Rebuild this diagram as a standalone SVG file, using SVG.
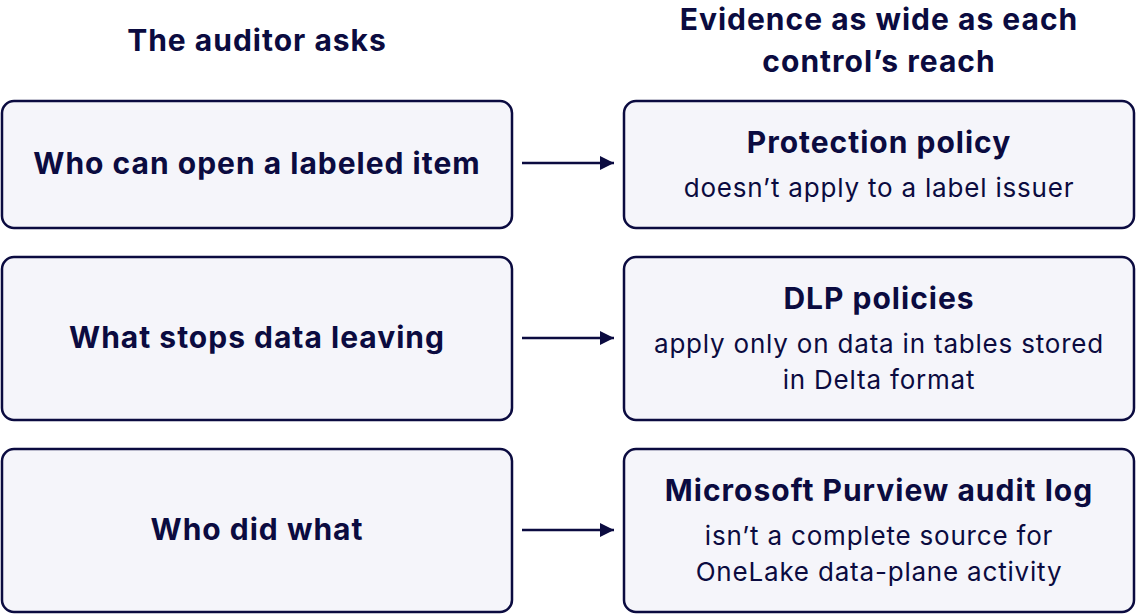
<svg xmlns="http://www.w3.org/2000/svg" width="1136" height="614" viewBox="0 0 1136 614">
<defs>
<style>
.box{fill:#f5f5fa;stroke:#0b0b40;stroke-width:2.5}
.t{font-family:Inter,"Liberation Sans",sans-serif;font-weight:700;font-size:30px;letter-spacing:1px;fill:#0b0b40;text-anchor:middle}
.s{font-family:Inter,"Liberation Sans",sans-serif;font-weight:400;font-size:26px;letter-spacing:0.8px;fill:#0b0b40;text-anchor:middle}
.c{stroke:#0b0b40;stroke-width:2.5;fill:none}
</style>
<marker id="a" markerWidth="14" markerHeight="14" refX="14" refY="7" orient="auto" markerUnits="userSpaceOnUse" viewBox="0 0 14 14">
<path d="M0,0 L14,7 L0,14 Z" fill="#0b0b40"/>
</marker>
</defs>
<g id="headers">
<text class="t" x="257" y="51">The auditor asks</text>
<text class="t" x="879" y="30">Evidence as wide as each</text>
<text class="t" x="879" y="72">control’s reach</text>
</g>
<g id="q1"><rect class="box" x="2" y="101" width="510" height="127" rx="12"/><text class="t" x="257" y="174">Who can open a labeled item</text></g>
<g id="q2"><rect class="box" x="2" y="257" width="510" height="163" rx="12"/><text class="t" x="257" y="348">What stops data leaving</text></g>
<g id="q3"><rect class="box" x="2" y="449" width="510" height="163" rx="12"/><text class="t" x="257" y="540">Who did what</text></g>
<g id="e1"><rect class="box" x="624" y="101" width="510" height="127" rx="12"/><text class="t" x="879" y="153">Protection policy</text><text class="s" x="879" y="197">doesn’t apply to a label issuer</text></g>
<g id="e2"><rect class="box" x="624" y="257" width="510" height="163" rx="12"/><text class="t" x="879" y="309">DLP policies</text><text class="s" x="879" y="353">apply only on data in tables stored</text><text class="s" x="879" y="389">in Delta format</text></g>
<g id="e3"><rect class="box" x="624" y="449" width="510" height="163" rx="12"/><text class="t" x="879" y="501">Microsoft Purview audit log</text><text class="s" x="879" y="545">isn’t a complete source for</text><text class="s" x="879" y="581">OneLake data-plane activity</text></g>
<g id="connectors">
<line class="c" x1="522" y1="163" x2="614" y2="163" marker-end="url(#a)"/>
<line class="c" x1="522" y1="338" x2="614" y2="338" marker-end="url(#a)"/>
<line class="c" x1="522" y1="530" x2="614" y2="530" marker-end="url(#a)"/>
</g>
</svg>
